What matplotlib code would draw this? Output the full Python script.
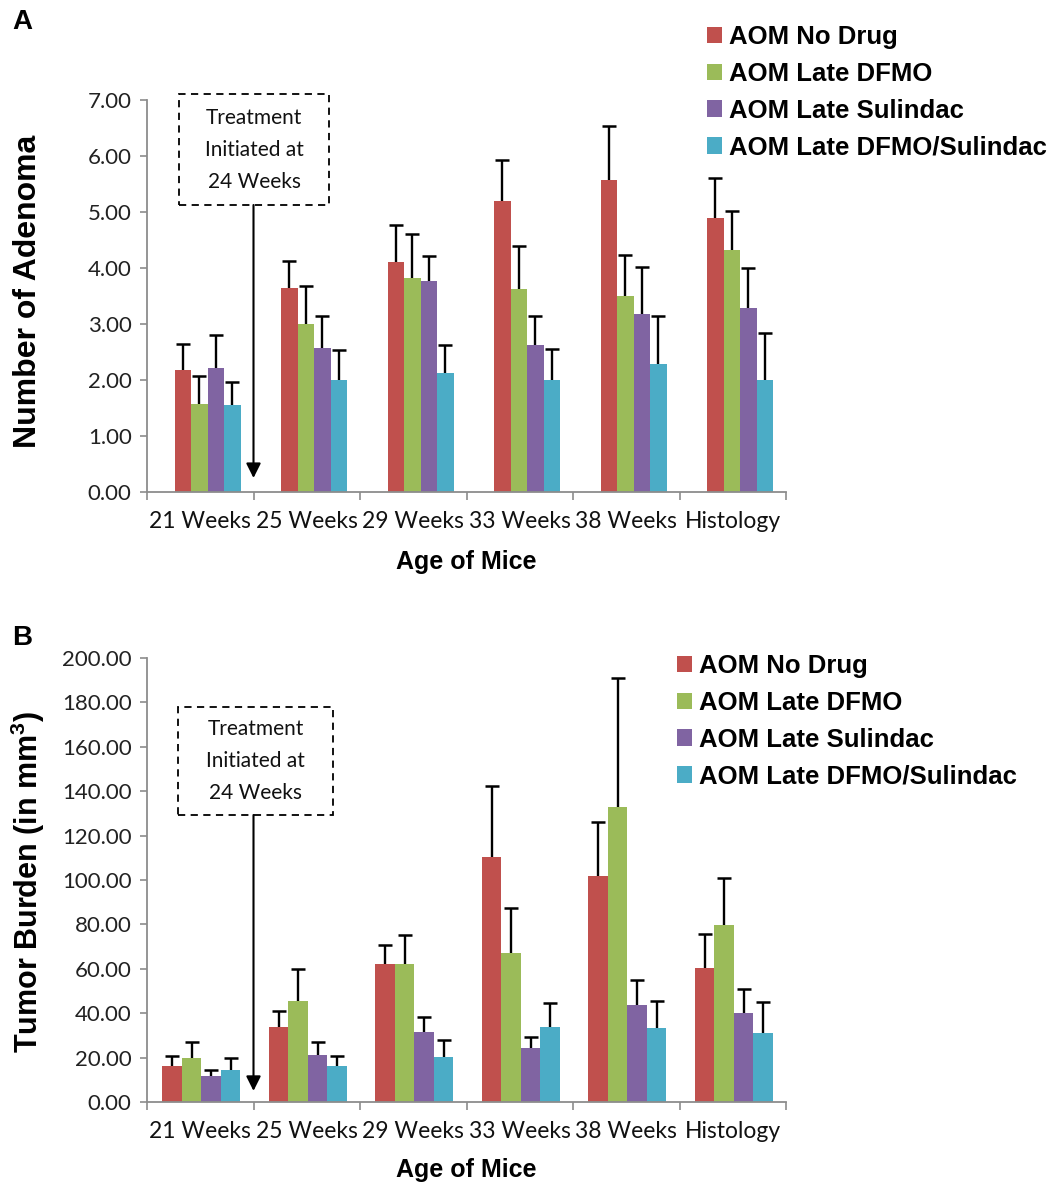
import numpy as np
import matplotlib
matplotlib.use('Agg')
import matplotlib.pyplot as plt
from matplotlib.patches import Rectangle, Patch

# data
categories = ['21 Weeks', '25 Weeks', '29 Weeks', '33 Weeks', '38 Weeks', 'Histology']
groups = ['AOM No Drug', 'AOM Late DFMO', 'AOM Late Sulindac', 'AOM Late DFMO/Sulindac']
colors = ['#C0504D', '#9BBB59', '#8064A2', '#4BACC6']

# panel A - number of adenoma
aden_no_drug = [2.18, 3.64, 4.10, 5.20, 5.57, 4.90]
aden_dfmo = [1.57, 3.00, 3.83, 3.63, 3.50, 4.32]
aden_sulindac = [2.22, 2.57, 3.77, 2.62, 3.17, 3.29]
aden_combo = [1.55, 2.00, 2.12, 2.00, 2.29, 2.00]
aden_no_drug_err = [0.47, 0.48, 0.66, 0.73, 0.96, 0.71]
aden_dfmo_err = [0.50, 0.67, 0.77, 0.77, 0.74, 0.70]
aden_sulindac_err = [0.59, 0.57, 0.44, 0.52, 0.84, 0.71]
aden_combo_err = [0.42, 0.53, 0.51, 0.55, 0.86, 0.84]

# panel B - tumor burden
burden_no_drug = [16.2, 33.8, 62.0, 110.2, 101.8, 60.2]
burden_dfmo = [19.6, 45.6, 62.0, 67.2, 133.0, 79.7]
burden_sulindac = [11.9, 21.1, 31.4, 24.5, 43.6, 39.9]
burden_combo = [14.3, 16.1, 20.3, 33.6, 33.4, 31.3]
burden_no_drug_err = [4.4, 7.1, 8.7, 32.2, 24.4, 15.4]
burden_dfmo_err = [7.5, 14.3, 13.2, 20.3, 57.8, 21.1]
burden_sulindac_err = [2.7, 6.0, 7.0, 5.0, 11.4, 11.1]
burden_combo_err = [5.7, 4.7, 7.5, 10.8, 12.0, 13.8]

W, H = 1048, 1184
plt.rcParams['mathtext.default'] = 'regular'
fig = plt.figure(figsize=(W / 100, H / 100), dpi=100)

tick_font = 'Lato'
bold_font = 'Liberation Sans'


def fx(px):
    return px / W


def fy(py):
    return 1 - py / H


def draw_panel(ax, series, errs, ymax, ystep, bar_w, shift):
    x = np.arange(len(categories))
    for j, (vals, err, c) in enumerate(zip(series, errs, colors)):
        pos = x + shift + (j - 1.5) * bar_w
        vals = np.array(vals)
        top = vals + np.array(err)
        ax.bar(pos, vals, width=bar_w, color=c, edgecolor='none', zorder=2)
        # upper error bar only, cap on top
        ax.vlines(pos, vals, top, color='black', lw=1.7, zorder=3)
        ax.plot(pos, top, ls='none', marker='_', ms=10, mew=1.8, color='black', zorder=3)
    ax.set_xlim(-0.5, len(categories) - 0.5)
    ax.set_ylim(0, ymax)
    ticks = np.arange(0, ymax + ystep / 2, ystep)
    ax.set_yticks(ticks)
    ax.set_yticklabels(['%.2f' % t for t in ticks], fontfamily=tick_font, fontsize=16, color='#222222')
    ax.set_xticks(x)
    ax.set_xticklabels(categories, fontfamily=tick_font, fontsize=16.5, color='#111111')
    ax.set_xticks(np.arange(-0.5, len(categories)), minor=True)
    ax.tick_params(axis='x', which='major', length=0, pad=14)
    ax.tick_params(axis='x', which='minor', length=6, color='#8C8C8C', width=1.2)
    ax.tick_params(axis='y', length=5, color='#8C8C8C', width=1.2, pad=6)
    for s in ['top', 'right']:
        ax.spines[s].set_visible(False)
    for s in ['left', 'bottom']:
        ax.spines[s].set_color('#8C8C8C')
        ax.spines[s].set_linewidth(1.3)


def treatment_note(ax, box, arrow_tip):
    x0, y0, x1, y1 = box
    fig.add_artist(Rectangle((fx(x0), fy(y1)), fx(x1 - x0), (y1 - y0) / H,
                             transform=fig.transFigure, fill=False, ls=(0, (4, 3)),
                             lw=1.3, ec='black'))
    fig.text(fx((x0 + x1) / 2), fy((y0 + y1) / 2), 'Treatment\nInitiated at\n24 Weeks',
             ha='center', va='center', fontfamily=tick_font, fontsize=15,
             linespacing=1.75, color='#111111')
    ax.annotate('', xy=arrow_tip, xycoords='data',
                xytext=(fx(253.5), fy(y1)), textcoords='figure fraction',
                arrowprops=dict(arrowstyle='-|>', color='black', lw=1.5,
                                mutation_scale=22, shrinkA=0, shrinkB=0))


def legend(x, y):
    handles = [Patch(facecolor=c, edgecolor='none') for c in colors]
    fig.legend(handles, groups, loc='upper left', bbox_to_anchor=(fx(x), fy(y)),
               frameon=False, prop={'family': bold_font, 'weight': 'bold', 'size': 18.5},
               handlelength=0.6, handleheight=0.6, handletextpad=0.25,
               labelspacing=0.5, borderpad=0, borderaxespad=0)


# panel A
axA = fig.add_axes([fx(147), fy(492), fx(639), 392 / H])
draw_panel(axA, [aden_no_drug, aden_dfmo, aden_sulindac, aden_combo],
           [aden_no_drug_err, aden_dfmo_err, aden_sulindac_err, aden_combo_err],
           7, 1, 0.155, 0.07)
treatment_note(axA, (179, 94, 329, 205), (0.5, 0.25))
legend(707, 25)
fig.text(fx(28), fy(291), 'Number of Adenoma', rotation=90, ha='center', va='center',
         fontfamily=bold_font, fontweight='bold', fontsize=23)
fig.text(fx(466), fy(562), 'Age of Mice', ha='center', va='center',
         fontfamily=bold_font, fontweight='bold', fontsize=18)
fig.text(fx(22), fy(22), 'A', ha='center', va='center',
         fontfamily=bold_font, fontweight='bold', fontsize=20)

# panel B
axB = fig.add_axes([fx(147), fy(1102), fx(639), 444 / H])
draw_panel(axB, [burden_no_drug, burden_dfmo, burden_sulindac, burden_combo],
           [burden_no_drug_err, burden_dfmo_err, burden_sulindac_err, burden_combo_err],
           200, 20, 0.183, 0.01)
treatment_note(axB, (178, 707, 333, 815), (0.5, 5))
legend(677, 654)
fig.text(fx(28), fy(882), 'Tumor Burden (in mm$^{3}$)', rotation=90, ha='center', va='center',
         fontfamily=bold_font, fontweight='bold', fontsize=22)
fig.text(fx(466), fy(1170), 'Age of Mice', ha='center', va='center',
         fontfamily=bold_font, fontweight='bold', fontsize=18)
fig.text(fx(22), fy(638), 'B', ha='center', va='center',
         fontfamily=bold_font, fontweight='bold', fontsize=20)

fig.savefig('out.png', dpi=100)
